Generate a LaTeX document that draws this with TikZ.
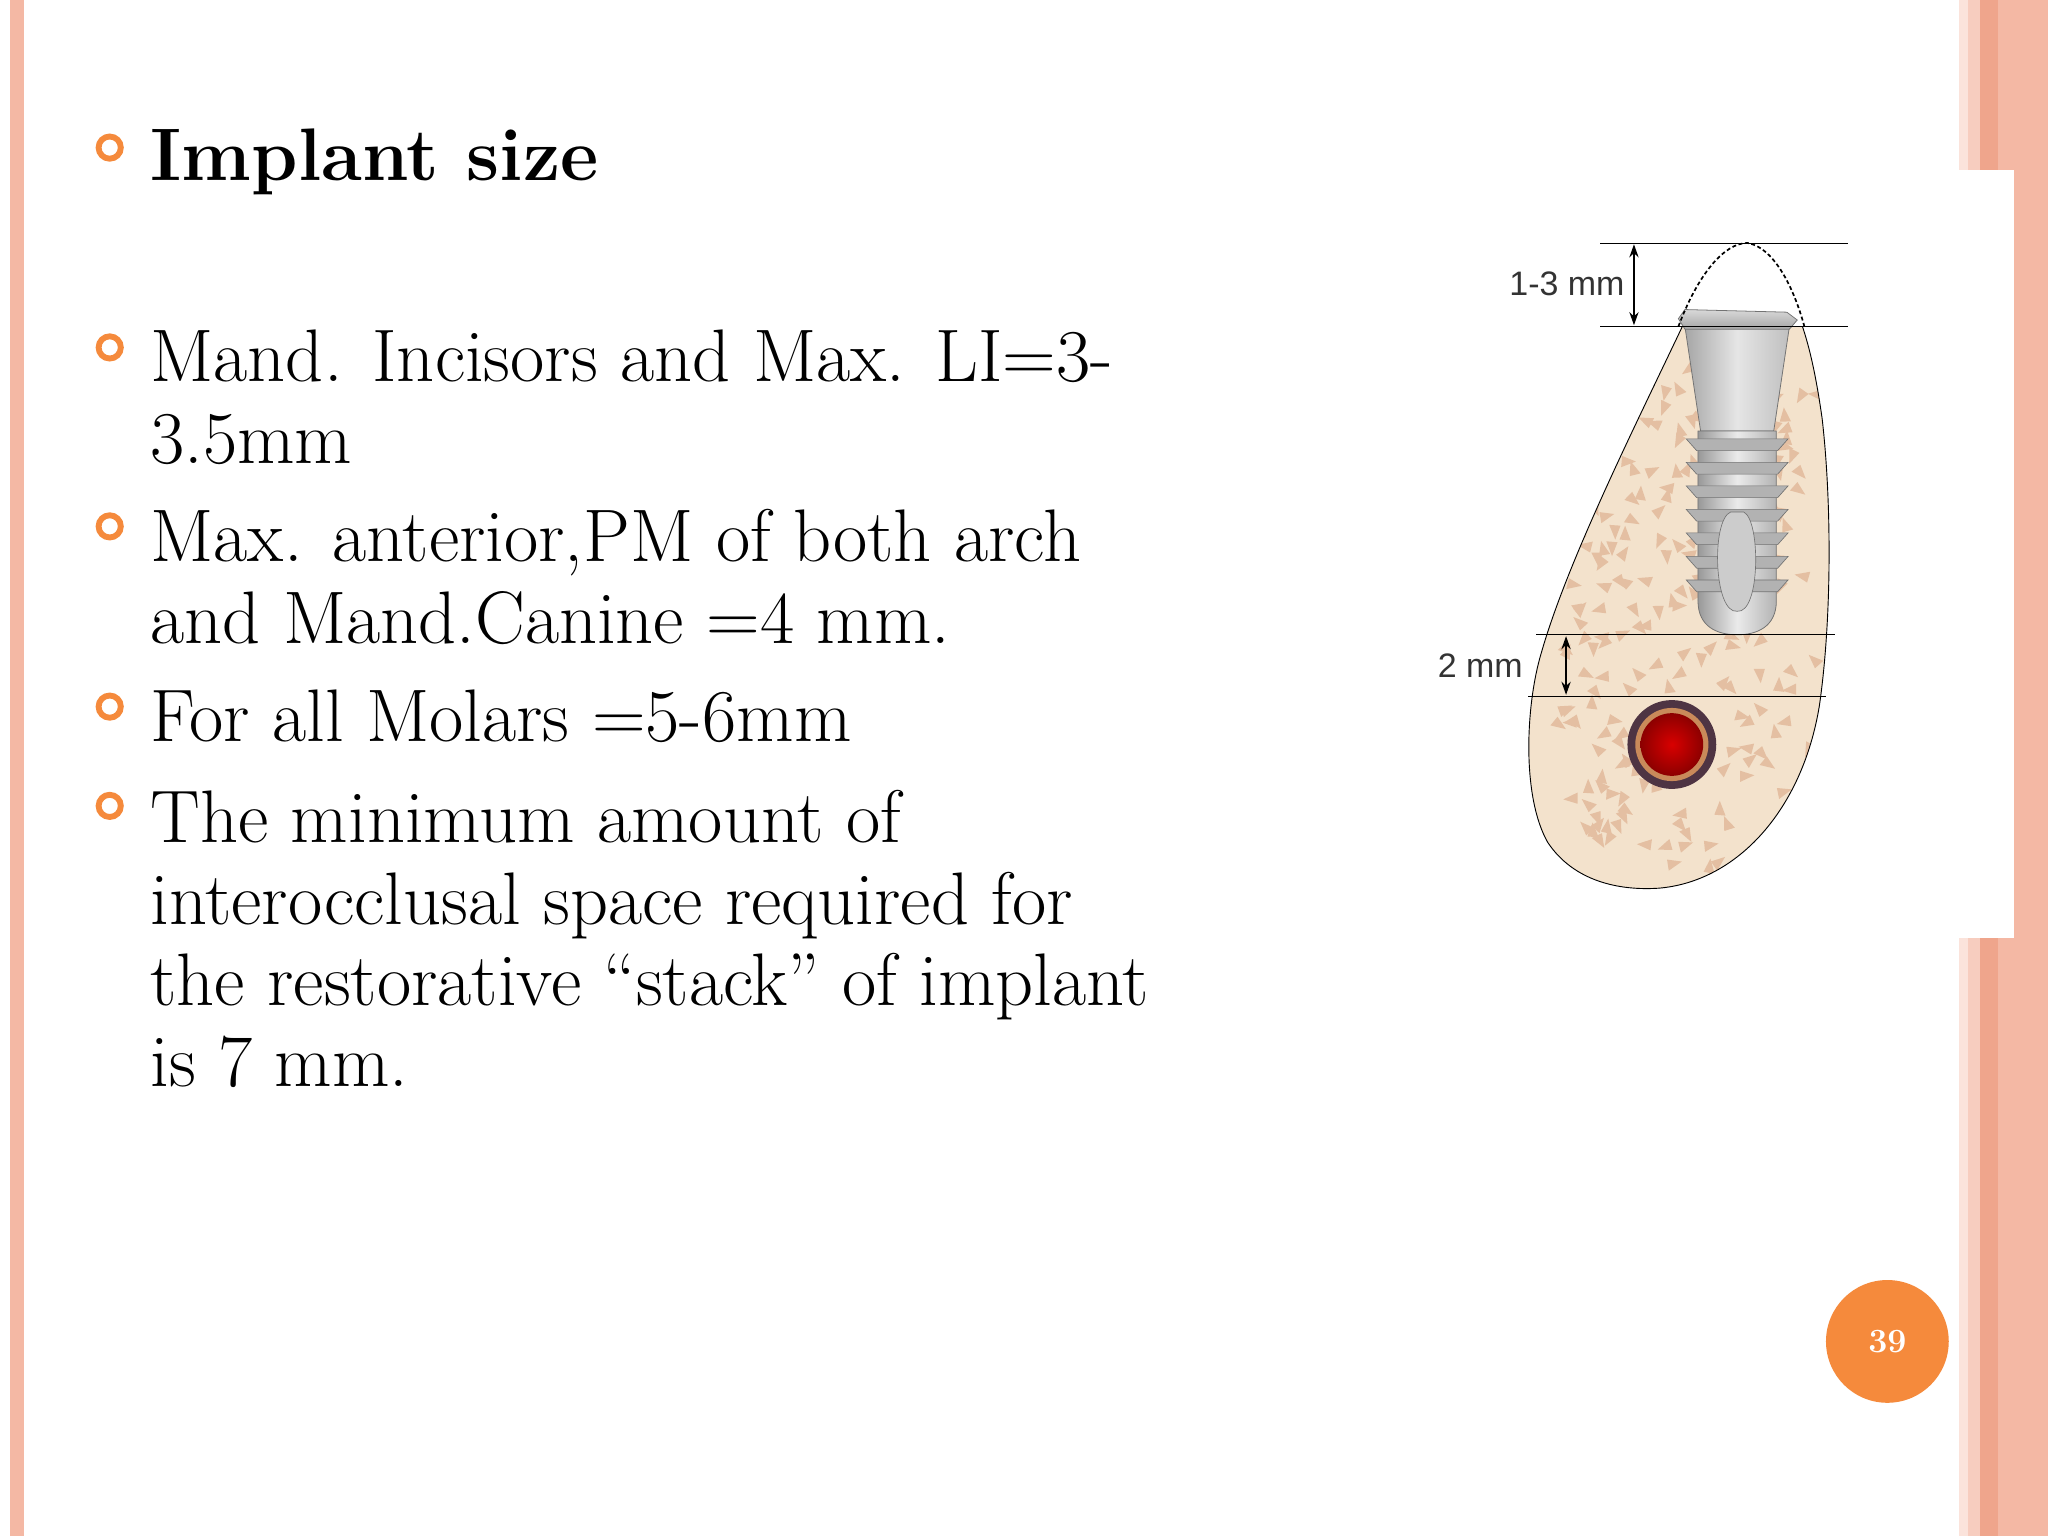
\documentclass[tikz,border=0pt]{standalone}
\usetikzlibrary{arrows.meta}
\usepackage{fontspec}
\newfontfamily\lab{Liberation Sans}
\definecolor{salmon}{HTML}{F4B8A4}
\definecolor{salmonD}{HTML}{EFA58C}
\definecolor{orng}{HTML}{F58A3C}
\definecolor{bone}{HTML}{F3E2CC}
\definecolor{pore}{HTML}{E4BFA2}
\definecolor{canal}{HTML}{4E3443}
\definecolor{canalring}{HTML}{C98A5A}
\begin{document}
\begin{tikzpicture}[x=1pt,y=-1pt,
  txt/.style={anchor=base west,inner sep=0,font=\fontsize{57}{60}\selectfont},
  bul/.style={circle,draw=orng,line width=4.5pt,minimum size=17pt,inner sep=0},
  dim/.style={line width=0.6pt},
  darr/.style={{Stealth[length=10pt,width=7pt]}-{Stealth[length=10pt,width=7pt]},line width=2.2pt},
  mmlab/.style={font=\lab\fontsize{26}{28}\selectfont,inner sep=0,text=black!80}]
\useasboundingbox (0,0) rectangle (1568,1176);
\fill[white] (0,0) rectangle (1568,1176);
% borders
\fill[salmon] (8,0) rectangle (18,1176);
\fill[salmon!40] (1500,0) rectangle (1507,1176);
\fill[salmon!70] (1507,0) rectangle (1516,1176);
\fill[salmonD] (1516,0) rectangle (1530,1176);
\fill[salmon] (1530,0) rectangle (1568,1176);
\fill[white] (1500,130) rectangle (1542,718);
% bullets and text
\node[bul] (b0) at (84,113) {};
\node[bul] (b1) at (84,266) {};
\node[bul] (b2) at (84,403) {};
\node[bul] (b3) at (84,541) {};
\node[bul] (b4) at (84,617) {};
\node[txt,font=\fontsize{57}{60}\selectfont\bfseries] (t0) at (115,138) {Implant size};
\node[txt] (t1) at (115,292) {Mand. Incisors and Max. LI=3-};
\node[txt] (t1b) at (115,355) {3.5mm};
\node[txt] (t2) at (115,430) {Max. anterior,PM of both arch};
\node[txt] (t2b) at (115,493) {and Mand.Canine =4 mm.};
\node[txt] (t3) at (115,568) {For all Molars =5-6mm};
\node[txt] (t4) at (115,645) {The minimum amount of};
\node[txt] (t4b) at (115,708) {interocclusal space required for};
\node[txt] (t4c) at (115,770) {the restorative ``stack'' of implant};
\node[txt] (t4d) at (115,832) {is 7 mm.};
% page number
\node[circle,fill=orng,minimum size=94pt,inner sep=0,text=white,font=\fontsize{26}{28}\selectfont\bfseries] (pg) at (1445,1027) {39};
% bone
\def\bonepath{(1288,250) .. controls (1250,330) and (1200,430) .. (1180,500)
  .. controls (1168,540) and (1165,610) .. (1185,645)
  .. controls (1205,675) and (1240,682) .. (1270,680)
  .. controls (1330,675) and (1380,620) .. (1393,540)
  .. controls (1403,470) and (1402,380) .. (1395,320)
  .. controls (1390,285) and (1385,265) .. (1380,250) -- cycle}
\path[fill=bone] \bonepath;
\begin{scope}
\clip \bonepath;
\pgfmathsetseed{7}
\foreach \i in {1,...,230}{
  \pgfmathsetmacro{\px}{1195+rnd*190}
  \pgfmathsetmacro{\py}{280+rnd*380}
  \pgfmathsetmacro{\ang}{rnd*360}
  \fill[pore,rotate around={\ang:(\px,\py)}] (\px,\py) -- ++(12,2) -- ++(-5,7) -- cycle;
}
\end{scope}
\draw[black,line width=0.7pt] \bonepath;
% nerve canal
\fill[canal] (1280,570) circle (34);
\fill[canalring] (1280,570) circle (28);
\shade[inner color=red!85!black,outer color=red!55!black] (1280,570) circle (24);
% implant
\shade[left color=black!35,right color=black!25,middle color=black!10,draw=black!55,line width=0.6pt]
  (1290,250) -- (1302,330) -- (1358,330) -- (1370,250) -- cycle;
\shade[top color=black!15,bottom color=black!35,draw=black!55,line width=0.6pt]
  (1285,244) -- (1290,237) -- (1368,239) -- (1376,245) -- (1370,252) -- (1290,252) -- cycle;
\shade[left color=black!40,right color=black!30,middle color=black!8,draw=black!55,line width=0.6pt]
  (1300,330) -- (1360,330) -- (1360,460) .. controls (1360,480) and (1345,486) .. (1330,486)
  .. controls (1315,486) and (1300,480) .. (1300,460) -- cycle;
\foreach \y in {336,354,372,390,408,426,444}{
  \fill[black!30,draw=black!55,line width=0.5pt] (1291,\y) -- (1369,\y) -- (1361,\y+9) -- (1299,\y+9) -- cycle;
}
\fill[black!20,draw=black!55,line width=0.5pt] (1325,392) .. controls (1310,398) and (1312,470) .. (1330,468)
  .. controls (1348,470) and (1348,398) .. (1335,392) -- cycle;
% dashed crown contour
\draw[line width=1.3pt,dash pattern=on 3pt off 2pt] (1285,250) .. controls (1300,210) and (1320,186) .. (1338,186)
  .. controls (1360,190) and (1375,225) .. (1382,252);
% dimension lines
\coordinate (l1a) at (1225,186); \coordinate (l1b) at (1415,186);
\coordinate (l2a) at (1225,250); \coordinate (l2b) at (1415,250);
\coordinate (l3a) at (1176,486); \coordinate (l3b) at (1405,486);
\coordinate (l4a) at (1170,533); \coordinate (l4b) at (1398,533);
\draw[dim] (l1a) -- (l1b); \draw[dim] (l2a) -- (l2b);
\draw[dim] (l3a) -- (l3b); \draw[dim] (l4a) -- (l4b);
\coordinate (a1) at (1251,187); \coordinate (a2) at (1251,249);
\coordinate (a3) at (1199,487); \coordinate (a4) at (1199,532);
\draw[darr] (a1) -- (a2);
\draw[darr] (a3) -- (a4);
\node[mmlab,anchor=east] (m1) at (1244,217) {1-3 mm};
\node[mmlab,anchor=east] (m2) at (1166,510) {2 mm};
\end{tikzpicture}
\end{document}
